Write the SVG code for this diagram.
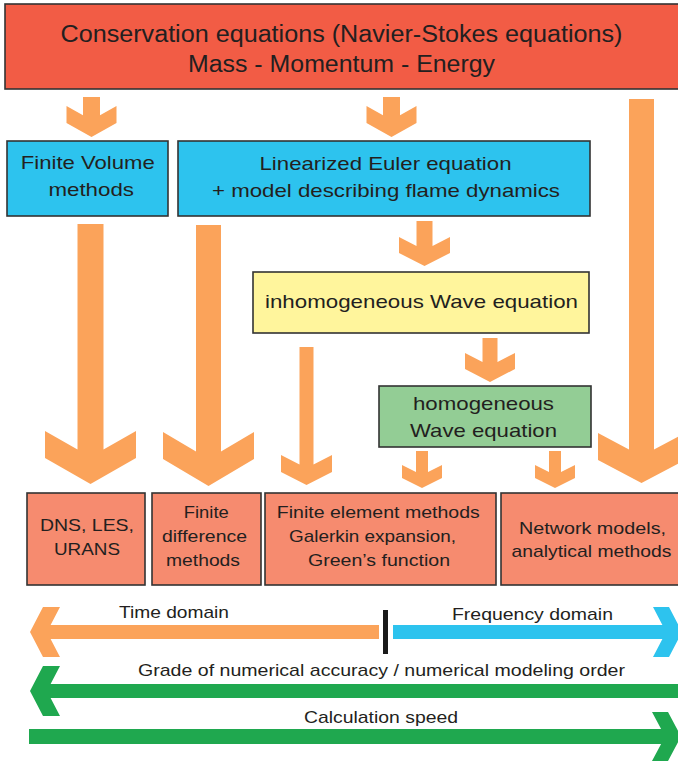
<svg xmlns="http://www.w3.org/2000/svg" width="678" height="763" viewBox="0 0 678 763">
<style>
  .box { stroke: #333333; stroke-width: 1.6; }
  .red { fill: #F25C45; }
  .blue { fill: #2DC3EE; }
  .yellow { fill: #FFF59C; }
  .green { fill: #93CD95; }
  .salmon { fill: #F68B6F; }
  .orange { fill: #FBA35A; }
  .cyan { fill: #2DC3EE; }
  .grn { fill: #1FA84F; }
  text { font-family: "Liberation Sans", Arial, Helvetica, sans-serif; fill: #231F20; text-anchor: middle; }
  .t23 { font-size: 23px; }
  .t19 { font-size: 19px; }
  .t17 { font-size: 17px; }
</style>
<rect width="678" height="763" fill="#ffffff"/>
<g id="connectors">
  <path class="orange" d="M83,97 L100,97 L100,115.2 L116.5,106 L116.5,123 L91.5,137 L66.5,123 L66.5,106 L83,115.2 Z"/>
  <path class="orange" d="M383,97 L400,97 L400,115.2 L416.5,106 L416.5,123 L391.5,137 L366.5,123 L366.5,106 L383,115.2 Z"/>
  <path class="orange" d="M416.5,221 L432.5,221 L432.5,246 L450,237 L450,253 L424.5,266 L399,253 L399,237 L416.5,246 Z"/>
  <path class="orange" d="M482.5,338 L497.5,338 L497.5,362 L515,353 L515,369 L490,382 L465,369 L465,353 L482.5,362 Z"/>
  <path class="orange" d="M299.5,347 L313.5,347 L313.5,464.4 L332,455 L332,472 L306.5,485 L281,472 L281,455 L299.5,464.4 Z"/>
  <path class="orange" d="M416,451 L428,451 L428,472 L442,465 L442,478 L422,488 L402,478 L402,465 L416,472 Z"/>
  <path class="orange" d="M549,451 L561,451 L561,472 L575,465 L575,478 L555,488 L535,478 L535,465 L549,472 Z"/>
  <path class="orange" d="M77.5,224 L103.5,224 L103.5,449.6 L136,431 L136,458 L90.5,484 L45,458 L45,431 L77.5,449.6 Z"/>
  <path class="orange" d="M196,225 L221,225 L221,451.6 L254,432 L254,459 L208.5,486 L163,459 L163,432 L196,451.6 Z"/>
  <path class="orange" d="M629,99 L654,99 L654,449.4 L685,433 L685,460 L641.5,483 L598,460 L598,433 L629,449.4 Z"/>
  <path class="orange" d="M379,625 L50.6,625 L60,607 L43,607 L30,632 L43,657 L60,657 L50.6,639 L379,639 Z"/>
  <rect x="383" y="610" width="5" height="44" fill="#1a1a1a"/>
  <path class="cyan" d="M393,625 L662.4,625 L653,607 L669,607 L682,632 L669,657 L653,657 L662.4,639 L393,639 Z"/>
  <path class="grn" d="M690,684 L50.6,684 L60,666 L43,666 L30,691 L43,716 L60,716 L50.6,698 L690,698 Z"/>
  <path class="grn" d="M29,729 L661.1,729 L652,712 L668,712 L681,736.5 L668,761 L652,761 L661.1,744 L29,744 Z"/>
  <text class="t17" x="174" y="618" textLength="110" lengthAdjust="spacingAndGlyphs">Time domain</text>
  <text class="t17" x="532.5" y="620" textLength="161" lengthAdjust="spacingAndGlyphs">Frequency domain</text>
  <text class="t17" x="381.5" y="676" textLength="487" lengthAdjust="spacingAndGlyphs">Grade of numerical accuracy / numerical modeling order</text>
  <text class="t17" x="381" y="723" textLength="154" lengthAdjust="spacingAndGlyphs">Calculation speed</text>
</g>
<g id="conservation">
  <rect class="box red" x="5" y="4" width="690" height="85" stroke-width="2"/>
  <text class="t23" x="341.5" y="41.5" textLength="562" lengthAdjust="spacingAndGlyphs">Conservation equations (Navier-Stokes equations)</text>
  <text class="t23" x="341.5" y="72" textLength="307" lengthAdjust="spacingAndGlyphs">Mass - Momentum - Energy</text>
</g>
<g id="finite-volume">
  <rect class="box blue" x="7" y="141" width="161" height="75"/>
  <text class="t19" x="87.8" y="169" textLength="134" lengthAdjust="spacingAndGlyphs">Finite Volume</text>
  <text class="t19" x="91.2" y="196" textLength="85.6" lengthAdjust="spacingAndGlyphs">methods</text>
</g>
<g id="linearized-euler">
  <rect class="box blue" x="178" y="141" width="412" height="75"/>
  <text class="t19" x="385.5" y="170" textLength="252" lengthAdjust="spacingAndGlyphs">Linearized Euler equation</text>
  <text class="t19" x="386" y="196.5" textLength="348" lengthAdjust="spacingAndGlyphs">+ model describing flame dynamics</text>
</g>
<g id="inhomogeneous">
  <rect class="box yellow" x="253" y="272" width="336" height="61"/>
  <text class="t19" x="421.5" y="307.5" textLength="313" lengthAdjust="spacingAndGlyphs">inhomogeneous Wave equation</text>
</g>
<g id="homogeneous">
  <rect class="box green" x="379" y="386" width="212" height="61"/>
  <text class="t19" x="483.5" y="410" textLength="141" lengthAdjust="spacingAndGlyphs">homogeneous</text>
  <text class="t19" x="483.5" y="436.5" textLength="147" lengthAdjust="spacingAndGlyphs">Wave equation</text>
</g>
<g id="dns-les">
  <rect class="box salmon" x="27" y="493" width="118" height="92"/>
  <text class="t17" x="87" y="531" textLength="94" lengthAdjust="spacingAndGlyphs">DNS, LES,</text>
  <text class="t17" x="87" y="555" textLength="66" lengthAdjust="spacingAndGlyphs">URANS</text>
</g>
<g id="finite-difference">
  <rect class="box salmon" x="152" y="493" width="109" height="92"/>
  <text class="t17" x="206.3" y="518" textLength="45" lengthAdjust="spacingAndGlyphs">Finite</text>
  <text class="t17" x="204.5" y="542" textLength="85" lengthAdjust="spacingAndGlyphs">difference</text>
  <text class="t17" x="203" y="566" textLength="74" lengthAdjust="spacingAndGlyphs">methods</text>
</g>
<g id="finite-element">
  <rect class="box salmon" x="265" y="493" width="231" height="92"/>
  <text class="t17" x="378.3" y="518" textLength="203" lengthAdjust="spacingAndGlyphs">Finite element methods</text>
  <text class="t17" x="372.5" y="542" textLength="167" lengthAdjust="spacingAndGlyphs">Galerkin expansion,</text>
  <text class="t17" x="379" y="566" textLength="142" lengthAdjust="spacingAndGlyphs">Green’s function</text>
</g>
<g id="network-models">
  <rect class="box salmon" x="501" y="493" width="190" height="92"/>
  <text class="t17" x="592.5" y="534" textLength="147" lengthAdjust="spacingAndGlyphs">Network models,</text>
  <text class="t17" x="591.5" y="557" textLength="160" lengthAdjust="spacingAndGlyphs">analytical methods</text>
</g>
</svg>
